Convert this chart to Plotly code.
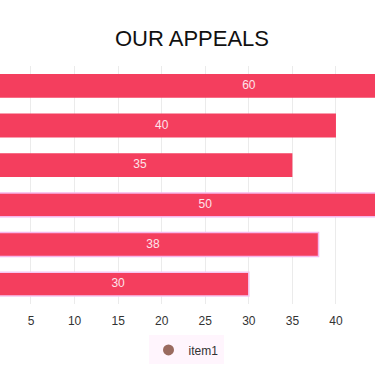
import plotly.graph_objects as go

categories = ["Appeal 1", "Appeal 2", "Appeal 3", "Appeal 4", "Appeal 5", "Appeal 6"]
values = [60, 40, 35, 50, 38, 30]
series_name = "item1"
x_ticks = [5, 10, 15, 20, 25, 30, 35, 40, 45]

bar_color = "#F43E5E"
outline_colors = ["rgba(0,0,0,0)", "rgba(0,0,0,0)", "rgba(0,0,0,0)", "#F6B6EC", "#F6B6EC", "#F6C6F2"]

fig = go.Figure()
fig.add_trace(go.Bar(
    y=categories, x=values, orientation="h",
    marker=dict(color=bar_color, line=dict(color=outline_colors, width=1.5)),
    showlegend=False, hoverinfo="skip",
))
fig.add_trace(go.Scatter(
    y=categories, x=[v / 2 for v in values], mode="text",
    text=[str(v) for v in values],
    textfont=dict(color="#FDE3EA", size=12, family="Liberation Sans, Arial, sans-serif"),
    showlegend=False, hoverinfo="skip", cliponaxis=True,
))
fig.add_trace(go.Scatter(
    x=[None], y=[None], mode="markers", name=series_name,
    marker=dict(symbol="circle", size=11, color="#9A6B5F"),
))

fig.update_layout(
    width=375, height=366,
    margin=dict(l=0, r=0, t=66, b=62),
    paper_bgcolor="white", plot_bgcolor="white",
    font=dict(family="Liberation Sans, Arial, sans-serif", color="#333333", size=12),
    title=dict(text="OUR APPEALS", x=0.512, xanchor="center", y=1 - 38 / 366, yanchor="middle",
               yref="container", font=dict(size=22, color="#111111")),
    bargap=0.4,
    xaxis=dict(range=[1.443, 44.48], tickvals=x_ticks, showgrid=True, gridcolor="#ebebeb",
               gridwidth=1, zeroline=False, showline=False, ticks="", ticklabelstandoff=8,
               tickfont=dict(size=12, color="#333333")),
    yaxis=dict(autorange="reversed", showticklabels=False, showgrid=False, zeroline=False, showline=False),
    legend=dict(orientation="h", x=0.496, xanchor="center", y=-0.193, yanchor="middle",
                bgcolor="rgba(255,236,252,0.5)", font=dict(size=12, color="#333333"),
                itemwidth=30),
)

fig.write_html("out.html", config={"displayModeBar": False},
               post_script="document.body.style.margin='0px';document.body.style.overflow='hidden';")
